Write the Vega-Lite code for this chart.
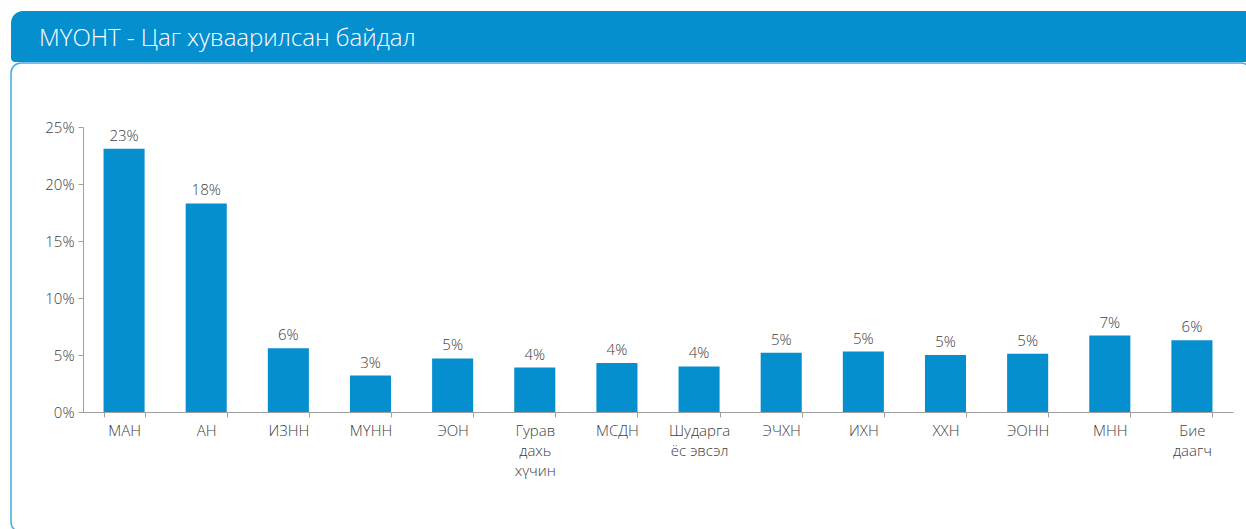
{
  "$schema": "https://vega.github.io/schema/vega-lite/v6.json",
  "padding": {"left": 10, "top": 11, "right": 0, "bottom": 0},
  "background": "white",
  "spacing": 0,
  "config": {
    "font": "Open Sans",
    "view": {"stroke": null}
  },
  "vconcat": [
    {
      "width": 1235,
      "height": 51,
      "data": {"values": [{"banner": "МҮОНТ - Цаг хуваарилсан байдал"}]},
      "title": {
        "text": "МҮОНТ - Цаг хуваарилсан байдал",
        "anchor": "start",
        "orient": "top",
        "offset": -59,
        "dx": 28,
        "baseline": "alphabetic",
        "color": "white",
        "fontSize": 24,
        "fontWeight": 300,
        "font": "Open Sans"
      },
      "mark": {"type": "rect", "color": "#068fcf", "cornerRadiusTopLeft": 12, "cornerRadiusBottomLeft": 4},
      "encoding": {}
    },
    {
      "width": 1240,
      "height": 469,
      "view": {"stroke": "#45aade", "strokeWidth": 1.5, "cornerRadius": 10, "fill": "white"},
      "data": {
        "values": [
          {"party": "МАН", "share": 0.231},
          {"party": "АН", "share": 0.183},
          {"party": "ИЗНН", "share": 0.056},
          {"party": "МҮНН", "share": 0.032},
          {"party": "ЭОН", "share": 0.047},
          {"party": "Гурав дахь хүчин", "share": 0.039},
          {"party": "МСДН", "share": 0.043},
          {"party": "Шударга ёс эвсэл", "share": 0.040},
          {"party": "ЭЧХН", "share": 0.052},
          {"party": "ИХН", "share": 0.053},
          {"party": "ХХН", "share": 0.050},
          {"party": "ЭОНН", "share": 0.051},
          {"party": "МНН", "share": 0.067},
          {"party": "Бие даагч", "share": 0.063}
        ]
      },
      "encoding": {
        "x": {
          "field": "party",
          "type": "nominal",
          "sort": null,
          "scale": {"range": [72, 1222], "paddingInner": 0.5, "paddingOuter": 0.25},
          "axis": {
            "title": null,
            "orient": "bottom",
            "offset": -120,
            "labelAngle": 0,
            "tickBand": "extent",
            "tickSize": 5,
            "tickColor": "#a0a0a0",
            "domainColor": "#a0a0a0",
            "labelColor": "#404040",
            "labelFontSize": 15,
            "labelFontWeight": 300,
            "labelPadding": 6,
            "labelLineHeight": 20,
            "labelBaseline": "top",
            "labelExpr": "datum.value == 'Гурав дахь хүчин' ? ['Гурав','дахь','хүчин'] : datum.value == 'Шударга ёс эвсэл' ? ['Шударга','ёс эвсэл'] : datum.value == 'Бие даагч' ? ['Бие','даагч'] : datum.value"
          }
        },
        "y": {
          "field": "share",
          "type": "quantitative",
          "scale": {"domain": [0, 0.25], "range": [349, 64], "nice": false},
          "axis": {
            "title": null,
            "orient": "left",
            "offset": -72,
            "values": [0, 0.05, 0.1, 0.15, 0.2, 0.25],
            "format": ".0%",
            "grid": false,
            "tickSize": 5,
            "tickColor": "#a0a0a0",
            "domainColor": "#a0a0a0",
            "labelColor": "#404040",
            "labelFontSize": 15,
            "labelFontWeight": 300,
            "labelPadding": 4
          }
        }
      },
      "layer": [
        {"mark": {"type": "bar", "color": "#068fcf"}},
        {
          "mark": {"type": "text", "baseline": "bottom", "dy": -5, "fontSize": 15, "fontWeight": 300, "color": "#404040"},
          "encoding": {"text": {"field": "share", "type": "quantitative", "format": ".0%"}}
        }
      ]
    }
  ]
}
